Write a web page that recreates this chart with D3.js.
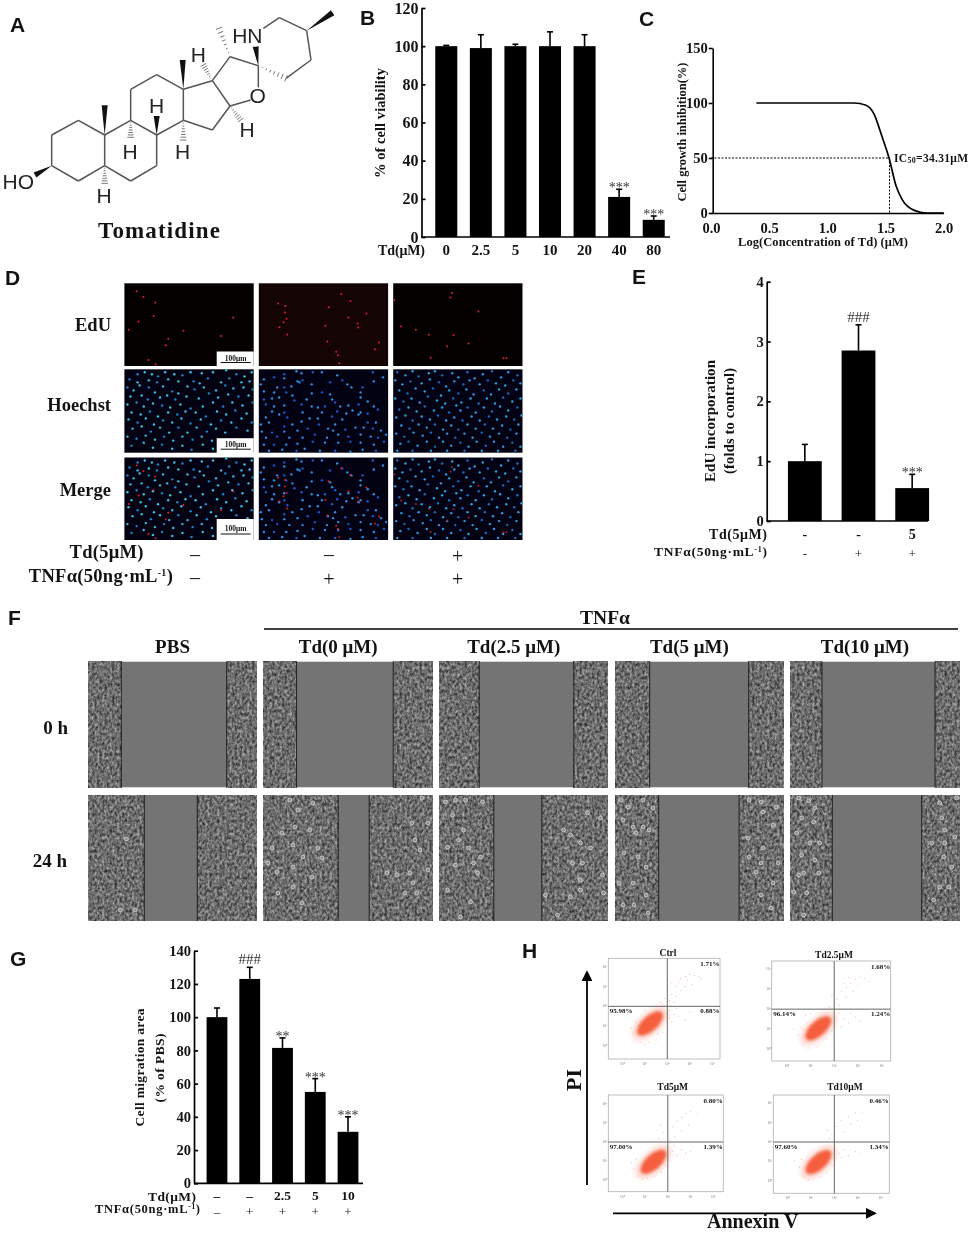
<!DOCTYPE html>
<html>
<head>
<meta charset="utf-8">
<script src="https://cdn.jsdelivr.net/npm/d3@7"></script>
<style>
html,body{margin:0;padding:0;background:#fff}
svg{display:block}
text{font-family:'Liberation Serif',serif;font-weight:bold;fill:#111;opacity:.99}
</style>
</head>
<body>
<div id="fig"></div>
<script>
// ---------- panel B
const viabilityDoses = ["0","2.5","5","10","20","40","80"];
const viabilityMeans = [100,99,100,100,100,21,9];
const viabilityTops = [100.4,106,101,107.5,106,25,11];
const viabilitySig = ["","","","","","***","***"];
const viabilityTicks = [0,20,40,60,80,100,120];

// ---------- panel C
const icLogConc = [0.39,0.7,1.0,1.229,1.333,1.40,1.472,1.531,1.593,1.645,1.748,1.851,2.0];
const icInhibition = [100,100,100,100,98,90.4,69,50,24,12,2.4,0,0];
const icLog50 = 1.535;
const icYTicks = [0,50,100,150];
const icXTicks = [0,0.5,1,1.5,2];

// ---------- panel E
const eduTd = ["-","-","5"];
const eduTnf = ["-","+","+"];
const eduMeans = [1,2.85,0.55];
const eduTops = [1.28,3.28,0.78];
const eduSig = ["","###","***"];
const eduTicks = [0,1,2,3,4];

// ---------- panel G
const migTd = ["–","–","2.5","5","10"];
const migTnf = ["–","+","+","+","+"];
const migMeans = [100,123,81.5,55,31];
const migTops = [105.5,130,87.5,63,40];
const migSig = ["","###","**","***","***"];
const migTicks = [0,20,40,60,80,100,120,140];

// ---------- panel D, spots in panel units (127 x 83)
// hoechst lists are an estimated subset of the visible nuclei, not a full count
const dRows = ["EdU","Hoechst","Merge"];
const dTd = ["–","–","+"];
const dTnf = ["–","+","+"];
const edu1 = [[12,8],[18.7,13.7],[30.3,19.3],[28.7,32.7],[14,38.3],[4.3,46.7],[43,55.7],[58,47.7],[40.7,62.3],[23.7,77],[30.7,81.3],[95,53],[107,34.3]];
const edu2 = [[19,20.3],[26,22.7],[25.7,29.3],[27.3,35.7],[24.3,39],[20.3,44],[28,51.3],[68.7,24],[65.3,42.7],[81,10.7],[90,17.7],[88,34.3],[97,40.3],[97.7,44.3],[105.7,30.3],[67.3,58.3],[76,68.7],[77.7,72],[79,80.3],[118,59.3],[114,66.3]];
const edu3 = [[57.7,9.7],[56.3,14.3],[83.7,28.3],[7.7,43.3],[22.3,46.7],[35,51.7],[59.3,52],[74,60.3],[53,63.3],[36.7,74.7],[108.3,75.3],[111.3,75.3],[1,17]];
const hoechst1 = [[13,5],[20,3],[27,5],[33,7],[40,3],[49,5],[57,6],[65,3],[76,4],[82,9],[87,3],[100,1],[110,5],[118,7],[125,3],
[5,10],[13,13],[24,11],[32,13],[43,10],[53,12],[68,12],[74,14],[95,13],[103,9],[115,13],[123,12],
[3,18],[9,21],[15,16],[24,18],[30,23],[38,17],[47,22],[53,24],[62,17],[69,20],[78,18],[90,21],[99,16],[107,19],[117,18],[126,20],
[6,27],[17,26],[23,30],[35,28],[42,26],[50,30],[61,27],[73,29],[83,24],[92,28],[102,25],[112,27],[122,26],
[3,35],[12,33],[19,37],[28,34],[37,36],[45,38],[55,35],[65,39],[77,37],[87,33],[97,37],[106,33],[116,36],[126,33],
[7,43],[16,45],[25,42],[33,47],[43,43],[52,45],[60,42],[70,43],[80,47],[91,42],[100,45],[109,41],[120,44],
[4,50],[13,53],[21,49],[29,55],[38,51],[47,53],[56,49],[65,54],[75,50],[85,55],[95,51],[105,53],[115,49],[125,53],
[8,59],[17,57],[26,62],[35,58],[44,63],[53,58],[62,63],[71,58],[81,62],[90,59],[99,63],[110,58],[121,61],
[3,67],[12,69],[21,66],[30,70],[39,67],[48,71],[57,67],[67,70],[76,67],[86,71],
[7,76],[19,73],[28,78],[37,75],[47,79],[57,76],[66,80],[77,75],[87,79]];
const hoechst2 = [[25,5],[37,2],[42,4],[53,3],[62,3],[77,6],[112,3],[122,8],
[38,12],[43,11],[40,13],[25,9],[15,8],[5,10],[2,15],[82,11],[113,12],
[18,18],[25,18],[32,17],[52,15],[70,13],[87,15],[91,18],[102,18],
[5,22],[15,23],[27,23],[33,26],[52,24],[62,23],[70,25],[100,23],
[5,30],[13,29],[20,28],[35,31],[47,30],[72,30],[75,33],[100,28],[107,32],
[7,35],[15,37],[25,36],[42,35],[52,37],[58,38],[65,37],[80,37],[88,36],[98,35],[113,37],
[13,42],[25,43],[43,43],[62,43],[77,42],[92,41],[100,43],[117,40],
[7,48],[20,45],[28,48],[50,49],[58,49],[72,47],[86,44],[98,45],[107,44],
[2,55],[10,53],[25,57],[33,55],[42,52],[59,55],[75,55],[82,50],[107,53],[115,53],
[3,62],[13,63],[25,62],[38,61],[48,59],[68,59],[73,61],[85,60],[95,58],[103,58],[112,59],[120,61],
[7,68],[18,67],[30,68],[43,68],[55,65],[67,68],[78,65],[88,67],[100,65],[110,67],[117,68],[125,65],
[5,75],[15,75],[27,75],[38,74],[53,72],[65,73],[78,73],[90,72],[100,73],[113,75],[123,72],
[10,81],[23,80],[37,81],[45,79],[60,81],[75,81],[90,82],[102,80],[115,81]];
const hoechst3 = [[4,3],[12,6],[19,2],[25,7],[35,4],[41,2],[48,6],[58,4],[64,8],[73,3],[80,9],[88,5],[97,2],[106,8],[113,3],[122,6],
[2,11],[9,15],[17,12],[28,14],[36,10],[45,13],[52,17],[60,12],[69,15],[75,11],[85,15],[93,11],[101,14],[110,16],[118,11],[125,14],
[6,21],[14,24],[22,19],[31,22],[39,19],[47,26],[55,21],[64,24],[72,20],[79,25],[89,21],[96,25],[104,20],[113,24],[121,20],
[2,29],[10,32],[18,29],[26,33],[34,27],[43,31],[51,34],[59,29],[67,33],[76,29],[84,34],[92,29],[100,34],[108,28],[117,32],[125,29],
[6,40],[15,38],[23,42],[31,37],[40,41],[48,38],[55,43],[62,36],[66,41],[73,38],[81,43],[89,38],[97,42],[105,37],[113,41],[122,38],
[3,48],[12,46],[19,51],[28,47],[36,50],[44,46],[52,51],[60,48],[68,51],[77,47],[85,51],[94,47],[102,50],[111,47],[119,50],[126,46],
[8,56],[16,59],[25,55],[33,58],[41,55],[49,60],[57,56],[64,60],[73,55],[81,59],[90,55],[98,59],[107,56],[115,60],[123,55],
[3,64],[11,67],[20,63],[29,66],[37,63],[45,68],[53,64],[61,68],[70,64],[78,68],[87,63],[95,67],[104,64],[112,68],[121,64],
[7,74],[15,72],[24,76],[33,72],[41,77],[49,72],[57,76],[66,73],[74,77],[82,72],[91,76],[99,72],[108,77],[117,73],[125,77],
[4,81],[19,81],[37,81],[53,81],[70,81],[87,81],[103,81],[120,81]];

// ---------- panel F, scratch edges and rounded cells in panel units (168 x 126)
const fGroups = ["PBS","Td(0 μM)","Td(2.5 μM)","Td(5 μM)","Td(10 μM)"];
const fTimes = ["0 h","24 h"];
const edges0h = [[33,138.4],[32.7,129.3],[39.7,134.3],[34.6,133.6],[31.3,144.3]];
const edges24h = [[56,109],[74.3,105.3],[54.3,102.3],[43.6,124],[41.6,131]];
const rounds24h = [
 [[47,115],[32,115],[38,44]],
 [[26,5],[34,15],[49,8],[31,32],[46,35],[54,53],[29,50],[18,38],[8,53],[4,68],[13,77],[29,72],[39,62],[58,63],[48,82],[29,92],[38,108],[14,98],[123,78],[133,80],[146,78],[158,3],[164,28],[148,28],[151,45],[156,55],[141,98],[153,98],[164,75],[149,88]],
 [[6,7],[16,5],[26,5],[43,7],[13,20],[24,35],[29,53],[19,45],[8,52],[34,68],[16,70],[41,62],[31,107],[21,122],[8,95],[38,78],[148,18],[161,23],[124,35],[131,40],[141,48],[151,53],[133,68],[143,68],[163,80],[141,85],[106,100],[131,102],[141,95],[164,98],[118,120]],
 [[6,5],[13,12],[28,5],[38,13],[8,25],[18,32],[28,32],[34,35],[21,38],[9,58],[23,62],[31,72],[4,88],[18,88],[31,100],[19,110],[8,110],[33,118],[134,5],[146,7],[161,12],[148,17],[158,30],[133,43],[148,53],[134,62],[146,68],[163,68],[141,77],[158,88],[146,100],[156,113]],
 [[8,3],[18,6],[24,13],[11,23],[23,27],[6,38],[19,48],[29,48],[11,60],[24,65],[8,80],[13,78],[28,78],[16,98],[3,97],[13,120],[149,8],[166,3],[151,23],[154,35],[164,42],[141,48],[154,48],[153,62],[161,72],[149,92],[158,92],[143,105]]
];

// ---------- panel H, log10 channel values
const flowNames = ["Ctrl","Td2.5μM","Td5μM","Td10μM"];
const flowUL = ["95.98%","96.14%","97.00%","97.60%"];
const flowUR = ["1.71%","1.68%","0.80%","0.46%"];
const flowLR = ["0.88%","1.24%","1.39%","1.34%"];
const flowCentres = [[1.23,1.14],[1.33,1.04],[1.37,0.96],[1.32,0.96]];
const flowDots = [
 [[2.2,2.6],[2.4,3],[2.5,3.2],[2.6,3.4],[2.8,3.5],[3,3.6],[3.2,3.55],[3.4,3.5],[3.5,3.4],[2.1,2.3],[1.9,2.4],[2,2.8],[1.8,2.1],[2.3,2.2],[2.6,2.8],[2.8,3],[2.9,3.3],[2.4,2.5],[1.7,2.2],[2.15,3.2],[3.1,3.1],[2.1,1.8],[2.3,1.6],[2.2,1.2],[2.5,1.5],[2.8,1.3],[2.4,1.9],[2.1,1.4],[3,1.7],[0.8,0.2],[1,0.1],[0.5,0.6],[1.5,0.3],[0.7,0.9],[1.6,0.6],[0.6,1.2],[1,1.8],[1.2,0.2],[0.4,0.9],[1.8,0.7]],
 [[2.1,2.5],[2.3,2.9],[2.5,3.1],[2.7,3.3],[2.9,3.5],[3.1,3.6],[3.3,3.55],[3.5,3.4],[2,2.3],[1.9,2.7],[2.2,2.2],[2.5,2.6],[2.8,2.9],[3,3.2],[1.8,2.1],[2.4,3.3],[2.6,3.6],[2.2,1.8],[2.4,1.5],[2.6,1.3],[2.9,1.6],[2.3,1.1],[3.1,1.4],[2.1,1.5],[2.7,1.8],[0.7,0.2],[0.9,0.05],[0.5,0.7],[1.4,0.2],[0.6,1.1],[1.7,0.5],[0.3,1],[1,1.8],[1.3,0.1],[1.9,0.9],[0.8,1.7]],
 [[2,2.4],[2.2,2.8],[2.4,3.1],[2.6,3.3],[2.8,3.5],[3,3.6],[3.3,3.5],[1.8,2.5],[1.6,2.2],[2.3,2.3],[2.6,2.6],[2.9,2.9],[1.7,2.9],[2.1,2.1],[2.2,1.5],[2.4,1.3],[2.6,1.6],[2.8,1.4],[2.3,1.8],[3,1.5],[0.7,0.2],[0.9,0.05],[0.5,0.6],[1.4,0.2],[0.6,1.1],[1.7,0.4],[0.4,0.9],[1.9,0.8],[1.1,0.1]],
 [[1.9,2.4],[2.1,2.8],[1.8,2.2],[2.3,3.1],[2.6,3.3],[2.9,3.5],[3.2,3.5],[1.7,2.6],[2,3],[2.4,2.5],[2.7,2.9],[3,3.1],[2.2,1.4],[2.4,1.6],[2.6,1.3],[2.9,1.5],[2.3,1.2],[3.1,1.4],[0.7,0.2],[0.9,0.05],[0.5,0.7],[1.4,0.2],[0.6,1.1],[1.7,0.4],[0.3,1],[1.9,0.8],[1.1,0.1]]
];

// ---------- panel A, structure traced in 3x crop coordinates
const molBonds = [
 [[155,497],[155,405]],[[155,405],[235,361]],[[235,361],[314,405]],[[314,405],[314,497]],[[314,497],[235,543]],[[235,543],[155,497]],
 [[314,405],[392,361]],[[392,361],[470,405]],[[470,405],[470,497]],[[470,497],[392,543]],[[392,543],[314,497]],
 [[392,361],[392,268]],[[392,268],[470,224]],[[470,224],[550,268]],[[550,268],[550,361]],[[550,361],[470,405]],
 [[550,268],[637,242]],[[637,242],[690,318]],[[690,318],[637,390]],[[637,390],[550,361]],
 [[637,242],[690,170]],[[690,170],[775,197]],[[775,197],[775,262]],[[752,300],[690,318]],
 [[790,85],[838,53]],[[838,53],[920,92]],[[920,92],[933,180]],[[933,180],[858,235]]
];
const molWedges = [[[155,497],[105,525]],[[314,405],[314,316]],[[550,268],[548,180]],[[470,405],[470,348]],[[775,197],[767,140]],[[920,92],[998,38]]];
const molHashes = [[[392,361],[392,412]],[[550,361],[550,420]],[[314,497],[314,550]],[[637,242],[610,195]],[[690,318],[722,360]],[[690,170],[657,85]],[[775,197],[858,235]]];
const molAtoms = [["HO",55,566],["H",312,610],["H",390,477],["H",548,477],["H",470,340],["H",595,185],["H",741,412],["O",773,310],["HN",742,128]];

const svg = d3.select("#fig").append("svg").attr("width",969).attr("height",1233);
svg.append("rect").attr("width",969).attr("height",1233).attr("fill","#fff");

const defs = svg.append("defs");
// cell sheet grain on the scratch photos, a texture only
const grain = defs.append("filter").attr("id","cells").attr("x",0).attr("y",0).attr("width",1).attr("height",1)
    .attr("color-interpolation-filters","sRGB");
grain.append("feTurbulence").attr("type","fractalNoise").attr("baseFrequency","0.4 0.3").attr("numOctaves",3).attr("seed",4);
grain.append("feColorMatrix").attr("values","0.75 0 0 0 0.05  0.75 0 0 0 0.05  0.75 0 0 0 0.05  0 0 0 0 1");
defs.append("filter").attr("id","soft").append("feGaussianBlur").attr("stdDeviation",1.6);
defs.append("filter").attr("id","haze").append("feGaussianBlur").attr("stdDeviation",2.5);

// text helper, everything goes through here
function label(parent, str, x, y, size, o) {
    o = o || {};
    const t = parent.append("text").attr("x",x).attr("y",y).attr("font-size",size)
        .attr("text-anchor",o.anchor || "middle");
    if (o.html) t.html(str); else t.text(str);
    if (o.len) t.attr("textLength",o.len).attr("lengthAdjust","spacing");
    if (o.rotate) t.attr("transform",`rotate(-90,${x},${y})`).attr("dominant-baseline","middle");
    if (o.sans) t.style("font-family","'Liberation Sans',sans-serif");
    if (o.weight) t.style("font-weight",o.weight);
    if (o.fill) t.style("fill",o.fill);
    return t;
}

[["A",10,32],["B",360,25],["C",639,26],["D",5,285],["E",632,284],["F",8,625],["G",10,966],["H",522,958]]
    .forEach(d => label(svg,d[0],d[1],d[2],21,{anchor:"start",sans:true}));

// ---------- A
const mol = d3.scaleLinear().domain([0,1020]).range([0,340]);
const molG = svg.append("g");
molG.selectAll("line.bond").data(molBonds).enter().append("line").attr("class","bond")
    .attr("x1",d => mol(d[0][0])).attr("y1",d => mol(d[0][1]))
    .attr("x2",d => mol(d[1][0])).attr("y2",d => mol(d[1][1]))
    .attr("stroke","#555").attr("stroke-width",1.5);
molG.selectAll("path.wedge").data(molWedges).enter().append("path").attr("class","wedge")
    .attr("fill","#111")
    .attr("d",d => {
        const dx = d[1][0]-d[0][0], dy = d[1][1]-d[0][1], n = Math.hypot(dx,dy);
        const px = -dy/n*9, py = dx/n*9;
        return d3.line()([[mol(d[0][0]),mol(d[0][1])],[mol(d[1][0]+px),mol(d[1][1]+py)],[mol(d[1][0]-px),mol(d[1][1]-py)]])+"Z";
    });
molHashes.forEach(d => {
    const dx = d[1][0]-d[0][0], dy = d[1][1]-d[0][1], n = Math.hypot(dx,dy);
    d3.range(1,8).forEach(i => {
        const f = i/7, w = 10*f;
        const cx = d[0][0]+dx*f, cy = d[0][1]+dy*f, px = -dy/n*w, py = dx/n*w;
        molG.append("line").attr("x1",mol(cx+px)).attr("y1",mol(cy+py)).attr("x2",mol(cx-px)).attr("y2",mol(cy-py))
            .attr("stroke","#777").attr("stroke-width",1);
    });
});
molAtoms.forEach(d => label(molG,d[0],mol(d[1]),mol(d[2]),21,{sans:true,weight:"normal",fill:"#222"}));
label(svg,"Tomatidine",159,238,23,{len:122});

// ---------- shared bar chart
function barPanel(c) {
    const g = svg.append("g");
    const y = d3.scaleLinear().domain([0,c.ymax]).range(c.yRange);
    const x = d3.scaleBand().domain(d3.range(c.means.length)).range(c.xRange)
        .paddingInner(c.gap).paddingOuter(c.gap/2);
    g.selectAll("rect").data(c.means).enter().append("rect")
        .attr("x",(d,i) => x(i)).attr("y",d => y(d))
        .attr("width",x.bandwidth()).attr("height",d => y(0)-y(d)).attr("fill","#000");
    c.means.forEach((m,i) => {
        const cx = x(i)+x.bandwidth()/2;
        g.append("line").attr("x1",cx).attr("x2",cx).attr("y1",y(m)).attr("y2",y(c.tops[i])).attr("stroke","#000").attr("stroke-width",1.6);
        g.append("line").attr("x1",cx-3).attr("x2",cx+3).attr("y1",y(c.tops[i])).attr("y2",y(c.tops[i])).attr("stroke","#000").attr("stroke-width",1.6);
        const s = c.sig[i];
        if (s) label(g,s,cx,y(c.tops[i])+(s[0]==="#"?-3:3),s[0]==="#"?15:14,{weight:"normal",fill:"#333"});
    });
    const ax = g.append("g").attr("transform",`translate(${c.axisX},0)`)
        .call(d3.axisLeft(y).tickValues(c.ticks).tickFormat(d => d).tickSize(-4).tickSizeOuter(0).tickPadding(3));
    ax.selectAll("text").attr("font-size",c.tickSize).attr("font-family",null);
    ax.selectAll("line,path").attr("stroke","#000").attr("stroke-width",1.7);
    g.append("line").attr("x1",c.axisX).attr("x2",c.xEnd).attr("y1",y(0)).attr("y2",y(0)).attr("stroke","#000").attr("stroke-width",1.7);
    return {x,y,g};
}

// ---------- B
const panelB = barPanel({means:viabilityMeans,tops:viabilityTops,sig:viabilitySig,ymax:120,yRange:[237,8],
    xRange:[429,671],gap:0.363,axisX:421.5,xEnd:670,ticks:viabilityTicks,tickSize:16});
const bAxis = panelB.g.append("g").attr("transform","translate(0,238)")
    .call(d3.axisBottom(panelB.x).tickSize(0).tickPadding(6).tickFormat(i => viabilityDoses[i]));
bAxis.select(".domain").remove();
bAxis.selectAll("text").attr("font-size",15).attr("font-family",null);
label(svg,"Td(μM)",378,254.5,14,{anchor:"start",len:47});
label(svg,"% of cell viability",382,123,14.5,{rotate:true,len:110});

// ---------- C
const xC = d3.scaleLinear().domain([0,2]).range([711,943.6]);
const yC = d3.scaleLinear().domain([0,150]).range([213,48]);
const gC = svg.append("g");
const yAxisC = gC.append("g").attr("transform","translate(712.7,0)")
    .call(d3.axisLeft(yC).tickValues(icYTicks).tickSize(4).tickSizeOuter(0).tickPadding(1));
yAxisC.selectAll("text").attr("font-size",14.5).attr("font-family",null);
const xAxisC = gC.append("g").attr("transform","translate(0,213)")
    .call(d3.axisBottom(xC).tickValues(icXTicks).tickSize(0).tickSizeOuter(0).tickPadding(10).tickFormat(d3.format(".1f")));
xAxisC.selectAll("text").attr("font-size",14.5).attr("font-family",null);
gC.selectAll("line,path").attr("stroke","#000").attr("stroke-width",1.6);
gC.append("path").datum(d3.zip(icLogConc,icInhibition))
    .attr("fill","none").attr("stroke","#000").attr("stroke-width",1.7)
    .attr("d",d3.line().curve(d3.curveMonotoneX).x(d => xC(d[0])).y(d => yC(d[1])));
gC.append("path").attr("fill","none").attr("stroke","#000").attr("stroke-width",1).attr("stroke-dasharray","2,1.5")
    .attr("d",d3.line()([[xC(0),yC(50)],[xC(icLog50),yC(50)],[xC(icLog50),yC(0)]]));
label(svg,'IC<tspan font-size="8" dy="1">50</tspan><tspan dy="-1">=34.31μM</tspan>',894,162,11.5,{anchor:"start",html:true,len:74});
label(svg,"Log(Concentration of Td) (μM)",823,246,12.5,{len:170});
label(svg,"Cell growth inhibition(%)",683,132,12.5,{rotate:true,len:139});

// ---------- D
const colD = d3.scaleBand().domain([0,1,2]).range([121.85,525.05]).paddingInner(5.1/134.4).paddingOuter(2.55/134.4);
const rowBoxes = [[283.3,366],[369.3,452.7],[457.5,540]];
const redSets = [edu1,edu2,edu3];
const blueSets = [hoechst1,hoechst2,hoechst3];
const blueFill = [["#38c4e0","#1f86c8"],["#2f8fe6","#1f55d0"],["#2e9fe0","#1c6cc0"]];
const mergeRed = ["#f01828","#e8182c","#a81c44"];
const gD = svg.append("g");
rowBoxes.forEach((box,r) => {
    d3.range(3).forEach(c => {
        const px = d3.scaleLinear().domain([0,127]).range([colD(c),colD(c)+colD.bandwidth()]);
        const py = d3.scaleLinear().domain([0,83]).range(box);
        const bg = (r===0 && c===1) ? "#140404" : (r===0 ? "#040000" : "#020212");
        gD.append("rect").attr("x",px(0)).attr("y",py(0)).attr("width",colD.bandwidth()).attr("height",box[1]-box[0]).attr("fill",bg);
        if (r>0) gD.append("g").selectAll("circle").data(blueSets[c]).enter().append("circle")
            .attr("cx",d => px(d[0])).attr("cy",d => py(d[1])).attr("r",1.2)
            .attr("fill",(d,i) => blueFill[c][i%3===0?1:0]);
        if (r!==1) gD.append("g").selectAll("circle").data(redSets[c]).enter().append("circle")
            .attr("cx",d => px(d[0])).attr("cy",d => py(d[1])).attr("r",1)
            .attr("fill",r===0?"#e02030":mergeRed[c]);
    });
    label(svg,dRows[r],111,[331,411,496][r],18.5,{anchor:"end"});
    // scale bar patch on the first column
    const bx = colD(0)+colD.bandwidth()-37, by = box[1]-[14.5,14.5,21][r];
    gD.append("rect").attr("x",bx).attr("y",by).attr("width",37).attr("height",box[1]-by+(r===2?0:0.5)).attr("fill","#fff");
    label(gD,"100μm",bx+19,by+[9,9,12][r],7.5);
    gD.append("line").attr("x1",bx+4).attr("x2",bx+34).attr("y1",by+[11,11,15][r]).attr("y2",by+[11,11,15][r]).attr("stroke","#111");
});
label(svg,"Td(5μM)",69.5,558,18.5,{anchor:"start",len:74});
label(svg,'TNFα(50ng·mL<tspan font-size="10" dy="-6">-1</tspan><tspan dy="6">)</tspan>',28.8,581.5,18.5,{anchor:"start",html:true,len:144});
[195,329,457.6].forEach((cx,i) => {
    label(svg,dTd[i],cx,dTd[i]==="+"?563:561,20,{weight:"normal"});
    label(svg,dTnf[i],cx,dTnf[i]==="+"?586:584,20,{weight:"normal"});
});

// ---------- E
const panelE = barPanel({means:eduMeans,tops:eduTops,sig:eduSig,ymax:4,yRange:[521,281.7],
    xRange:[778,939],gap:0.37,axisX:766.7,xEnd:928,ticks:eduTicks,tickSize:14.5});
eduTd.forEach((d,i) => {
    const cx = panelE.x(i)+panelE.x.bandwidth()/2;
    label(svg,d,cx,539,14);
    label(svg,eduTnf[i],cx,558,13,{weight:"normal"});
});
label(svg,"Td(5μM)",709,539,14,{anchor:"start",len:58});
label(svg,'TNFα(50ng·mL<tspan font-size="8" dy="-4">-1</tspan><tspan dy="4">)</tspan>',654,555.5,13.5,{anchor:"start",html:true,len:113});
label(svg,"EdU incorporation",711.7,421,15,{rotate:true,len:122});
label(svg,"(folds to control)",731,421,14.5,{rotate:true,len:106});

// ---------- F
const colF = d3.scaleBand().domain(d3.range(5)).range([84.75,962.75]).paddingInner(7.1/175.6).paddingOuter(3.55/175.6);
const rowF = [[661.7,787.3],[795,921]];
const gF = svg.append("g");
[edges0h,edges24h].forEach((edges,r) => {
    edges.forEach((e,c) => {
        const px = d3.scaleLinear().domain([0,168.5]).range([colF(c),colF(c)+colF.bandwidth()]);
        const py = d3.scaleLinear().domain([0,126]).range(rowF[r]);
        const h = rowF[r][1]-rowF[r][0];
        gF.append("rect").attr("x",px(0)).attr("y",rowF[r][0]).attr("width",colF.bandwidth()).attr("height",h).attr("fill","#747474");
        gF.append("rect").attr("x",px(0)).attr("y",rowF[r][0]).attr("width",px(e[0])-px(0)).attr("height",h).attr("filter","url(#cells)");
        gF.append("rect").attr("x",px(e[1])).attr("y",rowF[r][0]).attr("width",px(168.5)-px(e[1])).attr("height",h).attr("filter","url(#cells)");
        e.forEach(v => gF.append("line").attr("x1",px(v)).attr("x2",px(v)).attr("y1",rowF[r][0]).attr("y2",rowF[r][1]).attr("stroke","#222").attr("stroke-width",1));
        if (r===1) gF.append("g").selectAll("circle").data(rounds24h[c]).enter().append("circle")
            .attr("cx",d => px(d[0])).attr("cy",d => py(d[1])).attr("r",1.9)
            .attr("fill","#8c8c8c").attr("stroke","#cfcfcf").attr("stroke-width",0.9);
    });
});
fGroups.forEach((d,i) => {
    const cx = i===0 ? colF(0)+colF.bandwidth()/2 : colF(i)+colF.bandwidth()/2-10;
    label(svg,d,cx,653,19);
});
label(svg,"TNFα",605,624,19.5);
svg.append("line").attr("x1",264).attr("x2",958).attr("y1",629).attr("y2",629).attr("stroke","#000").attr("stroke-width",1.5);
label(svg,fTimes[0],68,734,19,{anchor:"end"});
label(svg,fTimes[1],67,867,19,{anchor:"end"});

// ---------- G
const panelG = barPanel({means:migMeans,tops:migTops,sig:migSig,ymax:140,yRange:[1183.3,950.7],
    xRange:[200.6,364.4],gap:0.365,axisX:194,xEnd:363,ticks:migTicks,tickSize:14.5});
migTd.forEach((d,i) => {
    const cx = panelG.x(i)+panelG.x.bandwidth()/2;
    label(svg,d,cx,1200,13.5);
    label(svg,migTnf[i],cx,1216,13,{weight:"normal"});
});
label(svg,"Td(μM)",148,1200.5,13.5,{anchor:"start",len:48});
label(svg,'TNFα(50ng·mL<tspan font-size="7.5" dy="-4">-1</tspan><tspan dy="4">)</tspan>',95,1213,12.5,{anchor:"start",html:true,len:105});
label(svg,"Cell migration area",140.7,1067.5,13.5,{rotate:true,len:118});
label(svg,"(% of PBS)",160.7,1068,13.5,{rotate:true,len:69});

// ---------- H
const flowBoxes = [
 {x:[608.3,720],y:[958.3,1059],xt:[622.3,712.3],yt:[1046,966.7],title:[668,955.7]},
 {x:[771.7,890.7],y:[961,1061],xt:[786.7,881.7],yt:[1049,969.3],title:[834,957.7]},
 {x:[608.3,723.3],y:[1095,1191.7],xt:[622.3,713.3],yt:[1180,1104],title:[672.7,1090]},
 {x:[773.3,889.3],y:[1095,1193.3],xt:[787.7,881],yt:[1180.7,1103.3],title:[845,1090]}
];
const gH = svg.append("g");
flowBoxes.forEach((b,i) => {
    const px = d3.scaleLinear().domain([0,4]).range(b.xt);
    const py = d3.scaleLinear().domain([0,4]).range(b.yt);
    const c = flowCentres[i], cx = px(c[0]), cy = py(c[1]);
    gH.append("rect").attr("x",b.x[0]).attr("y",b.y[0]).attr("width",b.x[1]-b.x[0]).attr("height",b.y[1]-b.y[0])
        .attr("fill","#fff").attr("stroke","#b0b0b0").attr("stroke-width",0.8);
    gH.append("ellipse").attr("cx",cx).attr("cy",cy).attr("rx",22).attr("ry",11)
        .attr("transform",`rotate(-42,${cx},${cy})`).attr("fill","#f9bdaf").attr("opacity",0.6).attr("filter","url(#haze)");
    gH.append("ellipse").attr("cx",cx).attr("cy",cy).attr("rx",16).attr("ry",7.5)
        .attr("transform",`rotate(-42,${cx},${cy})`).attr("fill","#f55f3c").attr("filter","url(#soft)");
    gH.append("g").selectAll("circle").data(flowDots[i]).enter().append("circle")
        .attr("cx",d => px(d[0])).attr("cy",d => py(d[1])).attr("r",0.6).attr("fill","#f6b9ab");
    gH.append("line").attr("x1",px(2)).attr("x2",px(2)).attr("y1",b.y[0]).attr("y2",b.y[1]).attr("stroke","#666").attr("stroke-width",1);
    gH.append("line").attr("x1",b.x[0]).attr("x2",b.x[1]).attr("y1",py(2)).attr("y2",py(2)).attr("stroke","#666").attr("stroke-width",1);
    d3.range(5).forEach(k => {
        label(gH,"10"+"⁰¹²³⁴"[k],px(k),b.y[1]+6,3.5,{weight:"normal",fill:"#777"});
        label(gH,"10"+"⁰¹²³⁴"[k],b.x[0]-1,py(k)+1,3.5,{anchor:"end",weight:"normal",fill:"#777"});
    });
    label(gH,flowNames[i],b.title[0],b.title[1],9.5);
    label(gH,flowUL[i],b.x[0]+1.5,py(2)+7,7,{anchor:"start"});
    label(gH,flowLR[i],b.x[1]-0.5,py(2)+7,7,{anchor:"end"});
    label(gH,flowUR[i],b.x[1]-0.5,b.y[0]+7.5,7,{anchor:"end"});
});
// arrows
defs.append("marker").attr("id","tip").attr("markerWidth",6).attr("markerHeight",6).attr("refX",5).attr("refY",3).attr("orient","auto")
    .append("path").attr("d","M0,0L6,3L0,6Z").attr("fill","#000");
svg.append("line").attr("x1",587).attr("x2",587).attr("y1",1185).attr("y2",972).attr("stroke","#000").attr("stroke-width",1.8).attr("marker-end","url(#tip)");
svg.append("line").attr("x1",613).attr("x2",875).attr("y1",1213.3).attr("y2",1213.3).attr("stroke","#000").attr("stroke-width",1.8).attr("marker-end","url(#tip)");
label(svg,"PI",576,1080,22,{rotate:true});
label(svg,"Annexin V",752.7,1228,20);
</script>
</body>
</html>
